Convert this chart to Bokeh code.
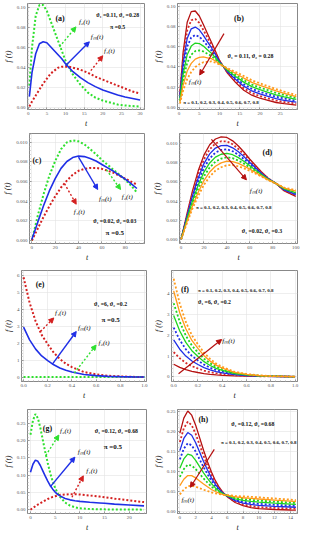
from bokeh.plotting import figure
from bokeh.layouts import column, row
from bokeh.models import Arrow, NormalHead, Label, FixedTicker, NumeralTickFormatter, Range1d
from bokeh.embed import file_html
from bokeh.resources import INLINE

# ---------------- data ----------------
pi_values = ["0.1", "0.2", "0.3", "0.4", "0.5", "0.6", "0.7", "0.8"]

# panel (a)
ta = [0.3, 1, 2, 3, 4, 5, 6, 7, 8, 9, 10, 11, 12, 14, 16, 18, 20, 22, 24, 26, 28, 30]
a_f2 = [.022, .060, .092, .103, .103, .097, .087, .077, .067, .057, .047, .040, .033, .023, .015, .010, .007, .005, .003, .002, .0015, .001]
a_f1 = [.001, .006, .012, .018, .024, .029, .034, .037, .040, .041, .041, .041, .040, .038, .035, .031, .028, .025, .022, .019, .016, .014]
a_fm = [.011, .035, .054, .064, .066, .065, .061, .057, .053, .049, .044, .040, .036, .030, .025, .021, .0175, .015, .0125, .0105, .009, .0075]

# panel (b)
tb = [0.2, 1, 2, 3, 4, 5, 6, 7, 8, 9, 10, 11, 12, 14, 16, 18, 20, 22, 24, 26, 29]
b_curves = [
    [.0136, .0546, .084, .0945, .0951, .0902, .0817, .073, .0643, .0554, .0464, .0401, .0337, .0245, .017, .0121, .0091, .007, .0049, .0037, .0024],
    [.0122, .0492, .076, .086, .0872, .0834, .0764, .069, .0616, .0538, .0458, .0402, .0344, .026, .019, .0142, .0112, .009, .0068, .0054, .0038],
    [.0108, .0438, .068, .0775, .0793, .0766, .0711, .065, .0589, .0522, .0452, .0403, .0351, .0275, .021, .0163, .0133, .011, .0087, .0071, .0052],
    [.0094, .0384, .060, .069, .0714, .0698, .0658, .061, .0562, .0506, .0446, .0404, .0358, .029, .023, .0184, .0154, .013, .0106, .0088, .0066],
    [.008, .033, .052, .0605, .0635, .063, .0605, .057, .0535, .049, .044, .0405, .0365, .0305, .025, .0205, .0175, .015, .0125, .0105, .008],
    [.0066, .0276, .044, .052, .0556, .0562, .0552, .053, .0508, .0474, .0434, .0406, .0372, .032, .027, .0226, .0196, .017, .0144, .0122, .0094],
    [.0052, .0222, .036, .0435, .0477, .0494, .0499, .049, .0481, .0458, .0428, .0407, .0379, .0335, .029, .0247, .0217, .019, .0163, .0139, .0108],
    [.0038, .0168, .028, .035, .0398, .0426, .0446, .045, .0454, .0442, .0422, .0408, .0386, .035, .031, .0268, .0238, .021, .0182, .0156, .0122],
]

# panel (c)
tc = [0, 5, 10, 15, 20, 25, 30, 35, 40, 45, 50, 55, 60, 65, 70, 75, 80, 85, 90]
c_f2 = [0, .0025, .0047, .0066, .0081, .0093, .0100, .0102, .0101, .0098, .0093, .0088, .0082, .0077, .0072, .0067, .0062, .0056, .0049]
c_f1 = [0, .0012, .0024, .0035, .0045, .0054, .0061, .0067, .0071, .0073, .0074, .0074, .0073, .0071, .0069, .0066, .0063, .0060, .0057]
c_fm = [.0001, .00185, .00355, .00505, .0063, .00735, .00805, .00845, .0086, .00855, .00835, .0081, .00775, .0074, .00705, .00665, .00625, .0058, .0053]

# panel (d)
td = [0, 5, 10, 15, 20, 25, 30, 35, 40, 45, 50, 55, 60, 70, 76, 83, 90, 100]
d_curves = [
    [0, .00257, .00504, .00713, .00876, .00983, .01043, .01065, .01059, .01024, .0097, .00906, .00833, .00703, .00637, .0058, .00505, .00449],
    [0, .00244, .00478, .00676, .00832, .00936, .00996, .0102, .01018, .00988, .0094, .00882, .00816, .00696, .00634, .0058, .0051, .00458],
    [0, .00231, .00452, .00639, .00788, .00889, .00949, .00975, .00977, .00952, .0091, .00858, .00799, .00689, .00631, .0058, .00515, .00467],
    [0, .00218, .00426, .00602, .00744, .00842, .00902, .0093, .00936, .00916, .0088, .00834, .00782, .00682, .00628, .0058, .0052, .00476],
    [0, .00205, .0040, .00565, .0070, .00795, .00855, .00885, .00895, .0088, .0085, .0081, .00765, .00675, .00625, .0058, .00525, .00485],
    [0, .00192, .00374, .00528, .00656, .00748, .00808, .0084, .00854, .00844, .0082, .00786, .00748, .00668, .00622, .0058, .0053, .00494],
    [0, .00179, .00348, .00491, .00612, .00701, .00761, .00795, .00813, .00808, .0079, .00762, .00731, .00661, .00619, .0058, .00535, .00503],
    [0, .00166, .00322, .00454, .00568, .00654, .00714, .0075, .00772, .00772, .0076, .00738, .00714, .00654, .00616, .0058, .0054, .00512],
]

# panel (e)
te = [0, .05, .1, .15, .2, .25, .3, .35, .4, .5, .6, .7, .8, .9, 1.0]
e_f1 = [5.9, 4.4, 3.3, 2.5, 1.95, 1.45, 1.08, .8, .6, .31, .17, .09, .05, .025, .012]
e_f2 = [.02, .02, .02, .02, .02, .019, .019, .019, .018, .018, .017, .016, .016, .015, .014]
e_fm = [2.96, 2.21, 1.66, 1.26, .985, .735, .55, .41, .31, .165, .095, .055, .035, .022, .015]

# panel (f)
tf = [0, .05, .1, .15, .2, .25, .3, .35, .4, .5, .6, .7, .8, .9, 1.0]
f_curves = [
    [.608, .458, .348, .268, .213, .163, .126, .098, .078, .049, .035, .027, .023, .0205, .019],
    [1.196, .896, .676, .516, .406, .306, .232, .176, .136, .078, .05, .034, .026, .021, .018],
    [1.784, 1.334, 1.004, .764, .599, .449, .338, .254, .194, .107, .065, .041, .029, .0215, .018],
    [2.372, 1.772, 1.332, 1.012, .792, .592, .444, .332, .252, .136, .08, .048, .032, .022, .017],
    [2.96, 2.21, 1.66, 1.26, .985, .735, .55, .41, .31, .165, .095, .055, .035, .0225, .016],
    [3.548, 2.648, 1.988, 1.508, 1.178, .878, .656, .488, .368, .194, .11, .062, .038, .023, .015],
    [4.136, 3.086, 2.316, 1.756, 1.371, 1.021, .762, .566, .426, .223, .125, .069, .041, .0235, .014],
    [4.724, 3.524, 2.644, 2.004, 1.564, 1.164, .868, .644, .484, .252, .14, .076, .044, .024, .014],
]

# panel (g)
tg = [0, .5, 1, 1.5, 2, 2.5, 3, 3.5, 4, 4.5, 5, 5.5, 6, 7, 8, 9, 10, 12, 14, 15, 17, 20, 23]
g_f2 = [.217, .258, .277, .265, .237, .202, .167, .135, .106, .082, .063, .048, .037, .021, .012, .007, .004, .002, .001, .001, .0005, .0003, .0002]
g_f1 = [0, .005, .010, .015, .019, .023, .027, .031, .034, .037, .039, .041, .043, .044, .045, .045, .044, .041, .038, .036, .032, .027, .022]
g_fm = [.1085, .1315, .1435, .14, .128, .1125, .097, .083, .070, .0595, .051, .0445, .040, .0325, .0285, .026, .024, .0215, .0195, .0185, .016, .0137, .011]

# panel (h)
th = [0, .5, 1, 1.5, 2, 2.5, 3, 3.5, 4, 4.5, 5, 5.5, 6, 7, 8, 9, 10, 12, 14, 14.7]
h_curves = [
    [.1953, .2327, .2503, .240, .2152, .1841, .153, .1246, .0988, .0775, .0606, .0473, .0376, .0233, .0153, .0108, .008, .0059, .0047, .0045],
    [.1736, .2074, .2236, .215, .1934, .1662, .139, .1142, .0916, .073, .0582, .0466, .0382, .0256, .0186, .0146, .012, .0098, .0084, .008],
    [.1519, .1821, .1969, .190, .1716, .1483, .125, .1038, .0844, .0685, .0558, .0459, .0388, .0279, .0219, .0184, .016, .0137, .0121, .0115],
    [.1302, .1568, .1702, .165, .1498, .1304, .111, .0934, .0772, .064, .0534, .0452, .0394, .0302, .0252, .0222, .020, .0176, .0158, .015],
    [.1085, .1315, .1435, .140, .128, .1125, .097, .083, .070, .0595, .051, .0445, .040, .0325, .0285, .026, .024, .0215, .0195, .0185],
    [.0868, .1062, .1168, .115, .1062, .0946, .083, .0726, .0628, .055, .0486, .0438, .0406, .0348, .0318, .0298, .028, .0254, .0232, .022],
    [.0651, .0809, .0901, .090, .0844, .0767, .069, .0622, .0556, .0505, .0462, .0431, .0412, .0371, .0351, .0336, .032, .0293, .0269, .0255],
    [.0434, .0556, .0634, .065, .0626, .0588, .055, .0518, .0484, .046, .0438, .0424, .0418, .0394, .0384, .0374, .036, .0332, .0306, .029],
]

# ---------------- styling ----------------
SERIF = "Liberation Serif"
RED = "#d42020"
GREEN = "#2fe02f"
BLUE = "#1f2fe6"
DARKRED = "#b51010"
MIX_COLORS = [DARKRED, "#d42a2a", BLUE, BLUE, "#1fd41f", "#1fd41f", "#ff9a1a", "#ff9a1a"]
MIX_DASH = ["solid", "2 2", "solid", "2 2", "solid", "2 2", "solid", "2 2"]
MIX_W = [1.3, 1.8, 1.3, 1.8, 1.3, 1.8, 1.3, 1.8]


def make_fig(w, h, xr, yr, xt, yt, xfmt, yfmt, mb_right=3, mb_top=3):
    p = figure(width=w, height=h, x_range=Range1d(*xr), y_range=Range1d(*yr),
               output_backend="svg", toolbar_location=None,
               min_border_left=0, min_border_right=mb_right,
               min_border_top=mb_top, min_border_bottom=0)
    xstep = xt[1] - xt[0]
    ystep = yt[1] - yt[0]
    p.xaxis.ticker = FixedTicker(ticks=xt, minor_ticks=[xt[0] + i * xstep / 5 for i in range(-5, 5 * len(xt) + 6)])
    p.yaxis.ticker = FixedTicker(ticks=yt, minor_ticks=[yt[0] + i * ystep / 5 for i in range(-5, 5 * len(yt) + 6)])
    p.xaxis.formatter = NumeralTickFormatter(format=xfmt)
    p.yaxis.formatter = NumeralTickFormatter(format=yfmt)
    p.xaxis.axis_label = "t"
    p.yaxis.axis_label = "f (t)"
    for ax in (p.xaxis[0], p.yaxis[0]):
        ax.major_label_text_font_size = "5px"
        ax.major_label_text_color = "#555555"
        ax.major_label_text_font = SERIF
        ax.axis_line_color = "#888888"
        ax.major_tick_line_color = "#888888"
        ax.minor_tick_line_color = "#aaaaaa"
        ax.major_tick_in = 2
        ax.major_tick_out = 0
        ax.minor_tick_in = 1
        ax.minor_tick_out = 0
        ax.axis_label_text_font = SERIF
        ax.axis_label_text_font_style = "italic"
        ax.axis_label_text_font_size = "8px"
        ax.axis_label_text_color = "#222222"
        ax.axis_label_standoff = 1
        ax.major_label_standoff = 2
    p.outline_line_color = "#888888"
    p.outline_line_width = 1
    p.grid.grid_line_color = "#e2e2e2"
    p.grid.grid_line_width = 0.6
    p.background_fill_color = "white"
    p.border_fill_color = "white"
    return p


def txt(p, x, y, s, size="6px", style="bold", align="left", color="#111111"):
    p.add_layout(Label(x=x, y=y, text=s, text_font=SERIF, text_font_size=size,
                       text_font_style=style, text_align=align,
                       text_baseline="middle", text_color=color))


def arrow(p, x0, y0, x1, y1, color, dash="solid", width=1.4):
    p.add_layout(Arrow(end=NormalHead(size=5, fill_color=color, line_color=color, line_width=1),
                       x_start=x0, y_start=y0, x_end=x1, y_end=y1,
                       line_color=color, line_width=width, line_dash=dash))


def three_lines(p, t, f1, f2, fm):
    p.line(t, f2, line_color=GREEN, line_width=2, line_dash="2 2")
    p.line(t, f1, line_color=RED, line_width=2, line_dash="2 2")
    p.line(t, fm, line_color=BLUE, line_width=1.6)


def mix_lines(p, t, curves):
    for c, col, dash, w in zip(curves, MIX_COLORS, MIX_DASH, MIX_W):
        p.line(t, c, line_color=col, line_width=w, line_dash=dash)


pi_text = "π = " + ", ".join(pi_values)
LBL = "7px"
PAR = "5.8px"
PIL = "5px"

# (a)
pa = make_fig(150, 130, (-0.2, 31.2), (-0.002, 0.1045), list(range(0, 31, 5)),
              [0, 0.02, 0.04, 0.06, 0.08, 0.10], "0", "0.00", mb_right=6)
three_lines(pa, ta, a_f1, a_f2, a_fm)
arrow(pa, 8.4, 0.061, 12.8, 0.081, GREEN, "2 2")
arrow(pa, 10.0, 0.042, 16.4, 0.066, BLUE)
arrow(pa, 16.8, 0.037, 20.0, 0.052, RED, "2 2")
txt(pa, 13.6, 0.086, "f₂(t)", LBL, "italic")
txt(pa, 16.8, 0.071, "fₘ(t)", LBL, "italic")
txt(pa, 20.3, 0.057, "f₁(t)", LBL, "italic")
txt(pa, 7.3, 0.089, "(a)", "8px")
txt(pa, 24.0, 0.0926, "ϑ₁ =0.11, ϑ₂ =0.28", PAR, align="center")
txt(pa, 24.0, 0.081, "π =0.5", PAR, align="center")

# (b)
pb = make_fig(150, 130, (-0.4, 29.3), (-0.002, 0.1025), list(range(0, 26, 5)),
              [0, 0.02, 0.04, 0.06, 0.08, 0.10], "0", "0.00")
mix_lines(pb, tb, b_curves)
arrow(pb, 11.1, 0.0728, 5.1, 0.032, DARKRED, width=1.2)
txt(pb, 2.4, 0.025, "fₘ(t)", LBL, "italic")
txt(pb, 13.6, 0.088, "(b)", "8px")
txt(pb, 12.0, 0.051, "ϑ₁ = 0.11, ϑ₂ = 0.28", PAR)
txt(pb, 1.0, 0.0045, pi_text, PIL)

# (c)
pc = make_fig(150, 134, (-2.0, 96.5), (-0.0003, 0.0109), list(range(0, 81, 20)),
              [0, 0.002, 0.004, 0.006, 0.008, 0.010], "0", "0.000", mb_right=6)
three_lines(pc, tc, c_f1, c_f2, c_fm)
arrow(pc, 40, 0.0085, 56.4, 0.0052, BLUE)
arrow(pc, 64, 0.0072, 76, 0.0052, GREEN, "2 2")
arrow(pc, 28, 0.0058, 38, 0.0037, RED, "2 2")
txt(pc, 57.5, 0.0042, "fₘ(t)", LBL, "italic")
txt(pc, 77.0, 0.0044, "f₂(t)", LBL, "italic")
txt(pc, 36.0, 0.0029, "f₁(t)", LBL, "italic")
txt(pc, 0.5, 0.0082, "(c)", "8px")
txt(pc, 71.0, 0.0020, "ϑ₁ =0.02, ϑ₂ =0.03", PAR, align="center")
txt(pc, 71.0, 0.0008, "π =0.5", "7px", align="center")

# (d)
pd_ = make_fig(150, 134, (-1.3, 101.5), (-0.0004, 0.011), list(range(0, 101, 20)),
               [0, 0.002, 0.004, 0.006, 0.008, 0.010], "0", "0.000")
mix_lines(pd_, td, d_curves)
arrow(pd_, 26.5, 0.0104, 57, 0.0062, DARKRED, width=1.2)
txt(pd_, 60, 0.0050, "fₘ(t)", LBL, "italic")
txt(pd_, 71, 0.0090, "(d)", "8px")
txt(pd_, 13, 0.0033, pi_text, PIL)
txt(pd_, 53, 0.0009, "ϑ₁ =0.02, ϑ₂ =0.3", PAR)

# (e)
pe = make_fig(150, 138, (-0.017, 1.017), (-0.25, 6.3), [0, 0.2, 0.4, 0.6, 0.8, 1.0],
              [0, 1, 2, 3, 4, 5, 6], "0.0", "0", mb_right=4, mb_top=6)
three_lines(pe, te, e_f1, e_f2, e_fm)
arrow(pe, 0.14, 2.7, 0.25, 3.5, RED, "2 2")
arrow(pe, 0.237, 0.76, 0.436, 2.7, BLUE)
arrow(pe, 0.42, 0.25, 0.60, 1.9, GREEN, "2 2")
txt(pe, 0.26, 3.8, "f₁(t)", LBL, "italic")
txt(pe, 0.45, 2.9, "fₘ(t)", LBL, "italic")
txt(pe, 0.62, 2.0, "f₂(t)", LBL, "italic")
txt(pe, 0.10, 5.45, "(e)", "8px")
txt(pe, 0.72, 4.35, "ϑ₁ =6, ϑ₂ =0.2", PAR, align="center")
txt(pe, 0.72, 3.4, "π =0.5", "7px", align="center")

# (f)
pf = make_fig(150, 138, (-0.018, 1.02), (-0.22, 5.12), [0, 0.2, 0.4, 0.6, 0.8, 1.0],
              [0, 1, 2, 3, 4], "0.0", "0", mb_top=4)
mix_lines(pf, tf, f_curves)
arrow(pf, 0.04, 0.15, 0.395, 1.8, DARKRED, width=1.2)
txt(pf, 0.40, 1.75, "fₘ(t)", LBL, "italic")
txt(pf, 0.06, 4.2, "(f)", "8px")
txt(pf, 0.20, 4.15, pi_text, PIL)
txt(pf, 0.20, 3.6, "ϑ₁ =6, ϑ₂ =0.2", PAR)

# (g)
pg = make_fig(150, 132, (-0.6, 23.5), (-0.011, 0.29), list(range(0, 21, 5)),
              [0, 0.05, 0.10, 0.15, 0.20, 0.25], "0", "0.00", mb_right=4, mb_top=5)
three_lines(pg, tg, g_f1, g_f2, g_fm)
arrow(pg, 3.1, 0.157, 5.75, 0.216, GREEN, "2 2")
arrow(pg, 4.0, 0.066, 9.0, 0.152, BLUE)
arrow(pg, 8.4, 0.036, 10.7, 0.098, RED, "2 2")
txt(pg, 6.0, 0.229, "f₂(t)", LBL, "italic")
txt(pg, 9.6, 0.168, "fₘ(t)", LBL, "italic")
txt(pg, 11.3, 0.111, "f₁(t)", LBL, "italic")
txt(pg, 2.5, 0.234, "(g)", "8px")
txt(pg, 17.4, 0.229, "ϑ₁ =0.12, ϑ₂ =0.68", PAR, align="center")
txt(pg, 16.7, 0.181, "π =0.5", "7px", align="center")

# (h)
ph = make_fig(150, 132, (-0.3, 14.9), (-0.004, 0.254), list(range(0, 15, 2)),
              [0, 0.05, 0.10, 0.15, 0.20, 0.25], "0", "0.00", mb_top=7)
mix_lines(ph, th, h_curves)
arrow(ph, 4.36, 0.155, 1.33, 0.061, DARKRED, width=1.2)
txt(ph, 0.2, 0.030, "fₘ(t)", LBL, "italic")
txt(ph, 2.35, 0.23, "(h)", "8px")
txt(ph, 6.5, 0.218, "ϑ₁ =0.12, ϑ₂ =0.68", PAR)
txt(ph, 5.2, 0.172, pi_text, PIL)

layout = column(row(pa, pb), row(pc, pd_), row(pe, pf), row(pg, ph), spacing=0)

open("out.html", "w").write(file_html(layout, INLINE))
